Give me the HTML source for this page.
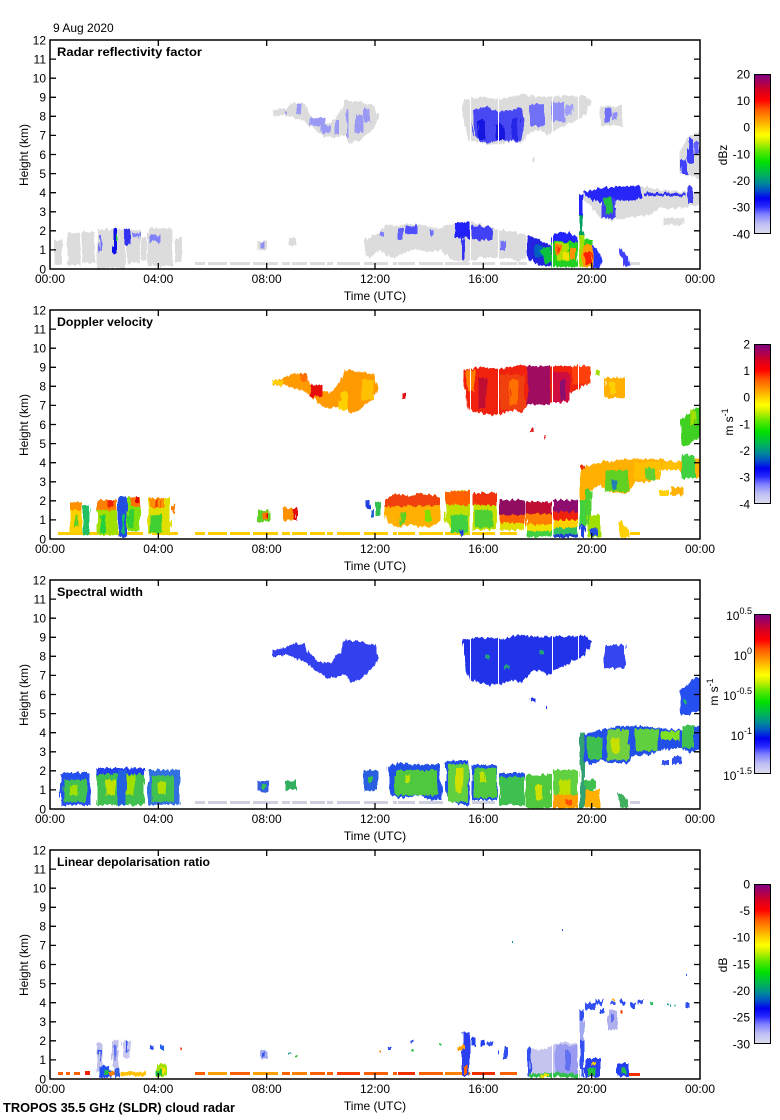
<!DOCTYPE html>
<html><head><meta charset="utf-8"><style>
html,body{margin:0;padding:0;background:#fff;}
svg{display:block;}
text{font-family:"Liberation Sans",Arial,sans-serif;fill:#000;font-size:12px;}
.b{font-weight:bold;}
</style></head><body>
<svg width="780" height="1120" viewBox="0 0 780 1120" xmlns="http://www.w3.org/2000/svg">
<defs>
<linearGradient id="cm" x1="0" y1="1" x2="0" y2="0">
<stop offset="0" stop-color="#dcdcee"/>
<stop offset="0.06" stop-color="#c0c0f4"/>
<stop offset="0.12" stop-color="#8080ff"/>
<stop offset="0.17" stop-color="#2828ff"/>
<stop offset="0.22" stop-color="#0000f0"/>
<stop offset="0.27" stop-color="#0050c8"/>
<stop offset="0.32" stop-color="#008c96"/>
<stop offset="0.38" stop-color="#00b850"/>
<stop offset="0.45" stop-color="#00e000"/>
<stop offset="0.52" stop-color="#60e800"/>
<stop offset="0.58" stop-color="#d0f000"/>
<stop offset="0.62" stop-color="#ffff00"/>
<stop offset="0.66" stop-color="#ffd800"/>
<stop offset="0.72" stop-color="#ff9800"/>
<stop offset="0.78" stop-color="#ff5800"/>
<stop offset="0.84" stop-color="#ff0000"/>
<stop offset="0.90" stop-color="#d80020"/>
<stop offset="0.96" stop-color="#a00060"/>
<stop offset="1" stop-color="#800080"/>
</linearGradient>
<filter id="rg" filterUnits="userSpaceOnUse" x="0" y="0" width="780" height="1120">
<feTurbulence type="fractalNoise" baseFrequency="0.35 0.06" numOctaves="2" seed="7" result="n"/>
<feDisplacementMap in="SourceGraphic" in2="n" scale="6" xChannelSelector="R" yChannelSelector="G"/>
</filter>
<clipPath id="c1"><rect x="50" y="40" width="650" height="229"/></clipPath>
<clipPath id="c2"><rect x="50" y="310" width="650" height="229"/></clipPath>
<clipPath id="c3"><rect x="50" y="580" width="650" height="229"/></clipPath>
<clipPath id="c4"><rect x="50" y="850" width="650" height="229"/></clipPath>
</defs>
<rect width="780" height="1120" fill="#fff"/>

<!-- ================= PANEL 1 DATA ================= -->
<g clip-path="url(#c1)">
<g fill="#dcdcdc">
<rect x="195" y="262" width="10" height="3"/><rect x="208" y="262" width="19" height="3"/><rect x="230" y="262" width="20" height="3"/><rect x="253" y="262" width="25" height="3"/><rect x="282" y="262" width="8" height="3"/><rect x="292" y="262" width="15" height="3"/><rect x="310" y="262" width="15" height="3"/><rect x="327" y="262" width="6" height="3"/><rect x="337" y="262" width="23" height="3"/><rect x="364" y="262" width="24" height="3"/><rect x="393" y="262" width="4" height="3"/><rect x="398" y="262" width="17" height="3"/><rect x="419" y="262" width="24" height="3"/><rect x="445" y="262" width="25" height="3"/><rect x="472" y="262" width="23" height="3"/><rect x="500" y="262" width="17" height="3"/><rect x="518" y="262" width="9" height="3"/><rect x="630" y="262" width="10" height="3"/>
</g>
<g filter="url(#rg)">
<g fill="#dcdcdc">
<rect x="55" y="240" width="7" height="25"/>
<rect x="67" y="233" width="13" height="32"/>
<rect x="82" y="232" width="13" height="31"/>
<rect x="97" y="229" width="28" height="39"/>
<rect x="127" y="230" width="13" height="33"/>
<rect x="141" y="238" width="6" height="22"/>
<rect x="148" y="228" width="24" height="38"/>
<rect x="175" y="238" width="7" height="24"/>
<rect x="258" y="241" width="10" height="9"/>
<rect x="289" y="238" width="7" height="8"/>
<polygon points="273,110 285,108 293,103 305,104 310,115 320,122 330,123 340,112 345,100 360,102 375,105 378,118 372,130 360,140 350,143 345,135 335,138 325,137 315,130 305,122 295,118 285,115 273,116"/>
<polygon points="463,100 480,97 500,99 520,95 540,97 560,96 585,96 592,102 585,115 570,123 560,128 548,135 540,130 530,132 522,143 515,140 500,144 490,145 480,143 470,140 465,125 463,110"/>
<rect x="600" y="106" width="22" height="20"/>
<rect x="531" y="158" width="3" height="4"/>
<polygon points="365,240 380,232 385,225 398,226 410,223 420,226 440,228 455,222 470,222 490,226 500,230 515,232 525,235 527,258 520,262 510,258 495,258 480,258 470,262 460,262 450,258 440,250 430,252 420,250 410,250 400,255 390,258 380,250 370,258 365,255"/>
<polygon points="583,192 600,188 640,186 660,190 700,192 700,205 680,208 660,208 650,215 630,217 615,220 600,218 590,205 583,200"/>
<polygon points="680,150 690,135 700,132 700,178 688,176 680,172"/>
<rect x="663" y="218" width="20" height="7"/>
</g>
<rect x="113" y="228" width="4" height="26" fill="#1010e8"/>
<rect x="116" y="234" width="2" height="6" fill="#20c040"/>
<rect x="124" y="229" width="6" height="16" fill="#3030f0"/>
<rect x="99" y="236" width="3" height="16" fill="#7070f8"/>
<rect x="150" y="235" width="10" height="7" fill="#8080f8"/>
<rect x="133" y="233" width="7" height="4" fill="#8080f8"/>
<rect x="260" y="242" width="5" height="6" fill="#9090f0"/>
<g fill="#9a9af4">
<rect x="296" y="104" width="6" height="10"/><rect x="310" y="118" width="15" height="8"/><rect x="322" y="125" width="8" height="8"/><rect x="335" y="120" width="4" height="14"/><rect x="346" y="110" width="3" height="28"/><rect x="355" y="115" width="8" height="18"/><rect x="364" y="108" width="6" height="14"/><rect x="284" y="110" width="4" height="3"/>
</g>
<polygon points="472,110 485,106 498,112 510,110 522,107 525,120 522,140 512,142 500,140 490,143 480,142 474,135" fill="#4a4af4"/>
<rect x="478" y="120" width="7" height="20" fill="#1515e0"/>
<rect x="496" y="124" width="8" height="16" fill="#1515e0"/>
<rect x="512" y="118" width="7" height="22" fill="#2525e8"/>
<rect x="530" y="104" width="14" height="22" fill="#7070f8"/>
<rect x="552" y="102" width="13" height="20" fill="#9090f8"/>
<rect x="566" y="105" width="6" height="10" fill="#a0a0f8"/>
<rect x="605" y="108" width="6" height="15" fill="#7070f8"/>
<rect x="612" y="112" width="5" height="8" fill="#9090f8"/>
<rect x="399" y="228" width="4" height="12" fill="#6060ff"/>
<rect x="405" y="226" width="12" height="8" fill="#5050ff"/>
<rect x="430" y="230" width="3" height="6" fill="#7070ff"/>
<rect x="380" y="232" width="3" height="5" fill="#8080ff"/>
<rect x="455" y="222" width="15" height="16" fill="#2020f8"/>
<rect x="462" y="236" width="3" height="24" fill="#3030f0"/>
<rect x="472" y="226" width="20" height="14" fill="#4040f4"/>
<rect x="500" y="240" width="5" height="10" fill="#7070f8"/>
<polygon points="527,235 535,238 545,243 552,246 552,266 540,266 530,260 527,250" fill="#2020e0"/>
<rect x="535" y="245" width="8" height="12" fill="#0060c0"/>
<polygon points="540,250 550,246 552,262 545,264" fill="#10c040"/>
<polygon points="552,236 560,232 570,233 578,238 578,267 552,267" fill="#20d020"/>
<polygon points="552,236 560,232 570,233 578,238 578,242 552,242" fill="#2020ff"/>
<rect x="556" y="243" width="12" height="18" fill="#b0e000"/>
<rect x="555" y="245" width="6" height="10" fill="#ff8000"/>
<rect x="557" y="248" width="3" height="5" fill="#ff3000"/>
<rect x="563" y="252" width="6" height="8" fill="#f0e000"/>
<rect x="570" y="248" width="6" height="12" fill="#ff9000"/>
<rect x="579" y="195" width="4" height="20" fill="#2020ff"/>
<rect x="579" y="215" width="4" height="20" fill="#00a060"/>
<rect x="579" y="235" width="4" height="32" fill="#a0e000"/>
<rect x="583" y="240" width="10" height="6" fill="#20d020"/>
<polygon points="583,245 592,245 594,255 592,267 583,267" fill="#ffa000"/>
<rect x="585" y="252" width="6" height="12" fill="#ff2000"/>
<polygon points="592,245 597,248 602,260 600,268 593,268" fill="#2030ff"/>
<polygon points="583,193 600,188 640,186 642,198 630,201 615,200 600,202 590,199" fill="#2525f8"/>
<rect x="602" y="198" width="14" height="20" fill="#4040f0"/>
<polygon points="604,198 612,196 613,212 606,215" fill="#20c040"/>
<rect x="645" y="193" width="40" height="3" fill="#3535f0"/>
<rect x="688" y="186" width="5" height="18" fill="#4040f0"/>
<rect x="681" y="160" width="6" height="14" fill="#4040ff"/>
<rect x="688" y="138" width="5" height="25" fill="#4040ff"/>
<rect x="694" y="142" width="6" height="12" fill="#6060ff"/>
<polygon points="618,248 622,250 628,258 630,266 624,266" fill="#4040ff"/>
</g>
<g fill="#fff"><rect x="470" y="40" width="1" height="229"/><rect x="498" y="40" width="1" height="229"/><rect x="552" y="40" width="1" height="229"/><rect x="578" y="40" width="1" height="229"/></g>
</g>

<!-- ================= PANEL 2 DATA ================= -->
<g clip-path="url(#c2)">
<g fill="#ffcc00">
<rect x="58" y="532" width="85" height="3"/><rect x="152" y="532" width="26" height="3"/>
<rect x="195" y="532" width="10" height="3"/><rect x="208" y="532" width="19" height="3"/><rect x="230" y="532" width="20" height="3"/><rect x="253" y="532" width="25" height="3"/><rect x="282" y="532" width="8" height="3"/><rect x="292" y="532" width="15" height="3"/><rect x="310" y="532" width="15" height="3"/><rect x="327" y="532" width="6" height="3"/><rect x="337" y="532" width="23" height="3"/><rect x="364" y="532" width="24" height="3"/><rect x="393" y="532" width="4" height="3"/><rect x="398" y="532" width="17" height="3"/><rect x="419" y="532" width="24" height="3"/><rect x="445" y="532" width="25" height="3"/><rect x="472" y="532" width="23" height="3"/><rect x="500" y="532" width="17" height="3"/><rect x="630" y="532" width="10" height="3"/>
</g>
<g filter="url(#rg)">
<rect x="70" y="502" width="12" height="31" fill="#ffd000"/>
<rect x="70" y="502" width="12" height="8" fill="#ff9000"/>
<rect x="74" y="515" width="4" height="12" fill="#60d020"/>
<rect x="83" y="505" width="7" height="30" fill="#20c060"/>
<rect x="97" y="500" width="20" height="35" fill="#a0e000"/>
<rect x="97" y="500" width="20" height="10" fill="#ff8000"/>
<rect x="108" y="500" width="4" height="6" fill="#f02000"/>
<rect x="100" y="515" width="6" height="18" fill="#20d040"/>
<rect x="118" y="497" width="9" height="40" fill="#2050e0"/>
<rect x="121" y="515" width="4" height="18" fill="#10c060"/>
<rect x="127" y="497" width="13" height="34" fill="#80e010"/>
<rect x="130" y="497" width="10" height="10" fill="#ff7000"/>
<rect x="135" y="497" width="4" height="6" fill="#e00000"/>
<rect x="128" y="510" width="6" height="18" fill="#30d030"/>
<rect x="148" y="498" width="22" height="36" fill="#e0e000"/>
<rect x="150" y="498" width="15" height="10" fill="#ff9000"/>
<rect x="155" y="500" width="4" height="8" fill="#f03000"/>
<rect x="150" y="515" width="12" height="18" fill="#40d030"/>
<rect x="172" y="505" width="4" height="8" fill="#ff8000"/>
<rect x="257" y="510" width="13" height="12" fill="#60d020"/>
<rect x="263" y="512" width="5" height="8" fill="#ff7000"/>
<rect x="266" y="514" width="2" height="5" fill="#e00000"/>
<rect x="283" y="508" width="14" height="12" fill="#ff9000"/>
<rect x="293" y="508" width="4" height="12" fill="#e01010"/>
<rect x="366" y="500" width="4" height="8" fill="#2040e0"/>
<rect x="371" y="510" width="3" height="8" fill="#2060d0"/>
<rect x="376" y="502" width="4" height="14" fill="#30c050"/>
<polygon points="273,380 285,378 293,373 305,374 310,385 320,392 330,393 340,382 345,370 360,372 375,375 378,388 372,400 360,410 350,413 345,405 335,408 325,407 315,400 305,392 295,388 285,385 273,386" fill="#ff9a00"/>
<rect x="310" y="385" width="12" height="12" fill="#e81010"/>
<rect x="300" y="374" width="8" height="8" fill="#ff7000"/>
<rect x="340" y="392" width="8" height="18" fill="#ffd000"/>
<rect x="362" y="380" width="12" height="20" fill="#ffc000"/>
<rect x="273" y="380" width="10" height="5" fill="#ffd000"/>
<rect x="402" y="393" width="3" height="6" fill="#e01010"/>
<polygon points="463,370 480,367 500,369 520,365 540,367 560,366 585,366 592,372 585,385 570,393 560,398 548,405 540,400 530,402 522,413 515,410 500,414 490,415 480,413 470,410 465,395 463,380" fill="#f02010"/>
<rect x="467" y="370" width="8" height="22" fill="#ff8000"/>
<rect x="478" y="378" width="8" height="30" fill="#c01030"/>
<rect x="500" y="375" width="25" height="35" fill="#f04010"/>
<rect x="510" y="380" width="8" height="25" fill="#ff7000"/>
<rect x="527" y="366" width="23" height="39" fill="#a01060"/>
<rect x="553" y="372" width="17" height="30" fill="#d01040"/>
<rect x="560" y="380" width="6" height="20" fill="#8a1070"/>
<rect x="572" y="366" width="18" height="18" fill="#ff4010"/>
<rect x="595" y="370" width="5" height="5" fill="#a0e000"/>
<rect x="605" y="378" width="20" height="20" fill="#ffb000"/>
<rect x="610" y="382" width="6" height="12" fill="#ffd000"/>
<rect x="530" y="428" width="4" height="4" fill="#e01010"/>
<rect x="544" y="435" width="2" height="3" fill="#e01010"/>
<polygon points="680,420 688,415 695,407 700,407 700,440 693,440 688,445 681,445" fill="#40d020"/>
<rect x="690" y="410" width="6" height="15" fill="#a0e000"/>
<polygon points="385,500 395,494 410,496 420,493 440,497 440,520 430,528 410,525 395,527 385,520" fill="#ffb000"/>
<polygon points="385,500 395,494 410,496 420,493 440,497 440,505 385,507" fill="#f04010"/>
<rect x="400" y="512" width="6" height="12" fill="#60d020"/>
<rect x="425" y="510" width="6" height="12" fill="#80e000"/>
<polygon points="445,496 455,491 465,490 470,493 470,535 460,535 450,528 445,520" fill="#c0e000"/>
<rect x="445" y="491" width="25" height="14" fill="#ff6000"/>
<rect x="450" y="515" width="18" height="18" fill="#40d040"/>
<rect x="460" y="530" width="4" height="6" fill="#2040e0"/>
<rect x="472" y="493" width="25" height="37" fill="#c8e000"/>
<rect x="472" y="493" width="25" height="12" fill="#f03010"/>
<rect x="475" y="510" width="18" height="18" fill="#50d030"/>
<rect x="499" y="500" width="26" height="15" fill="#901060"/>
<rect x="499" y="515" width="26" height="8" fill="#ff6000"/>
<rect x="499" y="523" width="26" height="7" fill="#e0e000"/>
<rect x="526" y="502" width="26" height="12" fill="#c01030"/>
<rect x="526" y="514" width="26" height="10" fill="#ff8000"/>
<rect x="526" y="524" width="26" height="7" fill="#f0e000"/>
<rect x="526" y="531" width="26" height="6" fill="#40d040"/>
<rect x="553" y="500" width="25" height="12" fill="#901070"/>
<rect x="553" y="512" width="25" height="8" fill="#f02010"/>
<rect x="553" y="520" width="25" height="8" fill="#ffd000"/>
<rect x="553" y="528" width="25" height="6" fill="#30c060"/>
<rect x="553" y="534" width="25" height="3" fill="#2040d0"/>
<rect x="580" y="465" width="5" height="5" fill="#f03000"/>
<rect x="580" y="470" width="5" height="30" fill="#ffb000"/>
<rect x="580" y="500" width="5" height="25" fill="#40d040"/>
<rect x="580" y="525" width="5" height="12" fill="#2040e0"/>
<polygon points="583,468 600,462 620,460 640,458 660,460 680,462 700,458 700,478 690,478 680,470 660,470 650,482 635,482 628,493 610,493 600,485 590,490 583,490" fill="#ffb000"/>
<rect x="605" y="470" width="23" height="22" fill="#60d020"/>
<rect x="612" y="480" width="5" height="10" fill="#2080b0"/>
<rect x="635" y="462" width="25" height="18" fill="#ffc000"/>
<rect x="645" y="468" width="10" height="12" fill="#60d030"/>
<rect x="682" y="455" width="13" height="23" fill="#40d040"/>
<rect x="662" y="462" width="18" height="8" fill="#ffc000"/>
<rect x="585" y="490" width="6" height="35" fill="#50d030"/>
<rect x="588" y="515" width="12" height="22" fill="#a0e000"/>
<rect x="590" y="528" width="8" height="8" fill="#2050e0"/>
<rect x="660" y="490" width="8" height="6" fill="#ffd000"/>
<rect x="670" y="487" width="13" height="8" fill="#ffb000"/>
<polygon points="618,522 622,522 628,530 630,537 620,537" fill="#ffd000"/>
</g>
<g fill="#fff"><rect x="470" y="310" width="1" height="229"/><rect x="498" y="310" width="1" height="229"/><rect x="552" y="310" width="1" height="229"/><rect x="578" y="310" width="1" height="229"/></g>
</g>

<!-- ================= PANEL 3 DATA ================= -->
<g clip-path="url(#c3)">
<g fill="#cfcfe0">
<rect x="195" y="801" width="10" height="3"/><rect x="208" y="801" width="19" height="3"/><rect x="230" y="801" width="20" height="3"/><rect x="253" y="801" width="25" height="3"/><rect x="282" y="801" width="8" height="3"/><rect x="292" y="801" width="15" height="3"/><rect x="310" y="801" width="15" height="3"/><rect x="327" y="801" width="6" height="3"/><rect x="337" y="801" width="23" height="3"/><rect x="364" y="801" width="24" height="3"/><rect x="393" y="801" width="4" height="3"/><rect x="398" y="801" width="17" height="3"/><rect x="419" y="801" width="24" height="3"/><rect x="472" y="801" width="23" height="3"/><rect x="500" y="801" width="17" height="3"/><rect x="630" y="801" width="10" height="3"/>
</g>
<g filter="url(#rg)">
<rect x="60" y="773" width="30" height="32" fill="#2850f0"/>
<rect x="64" y="780" width="22" height="22" fill="#40c050"/>
<rect x="70" y="785" width="8" height="10" fill="#a0e000"/>
<rect x="97" y="768" width="48" height="37" fill="#40c050"/>
<rect x="97" y="768" width="48" height="6" fill="#2040f0"/>
<rect x="105" y="780" width="10" height="15" fill="#c0e000"/>
<rect x="125" y="775" width="10" height="20" fill="#a0e000"/>
<rect x="118" y="770" width="8" height="35" fill="#2060e0"/>
<rect x="148" y="770" width="32" height="35" fill="#3070e0"/>
<rect x="152" y="776" width="22" height="26" fill="#40c050"/>
<rect x="158" y="782" width="8" height="12" fill="#b0e000"/>
<rect x="258" y="781" width="12" height="11" fill="#3060e0"/>
<rect x="262" y="784" width="4" height="5" fill="#30c050"/>
<rect x="285" y="781" width="11" height="9" fill="#30b060"/>
<polygon points="273,650 285,648 293,643 305,644 310,655 320,662 330,663 340,652 345,640 360,642 375,645 378,658 372,670 360,680 350,683 345,675 335,678 325,677 315,670 305,662 295,658 285,655 273,656" fill="#3040f0"/>
<polygon points="463,640 480,637 500,639 520,635 540,637 560,636 585,636 592,642 585,655 570,663 560,668 548,675 540,670 530,672 522,683 515,680 500,684 490,685 480,683 470,680 465,665 463,650" fill="#2030e8"/>
<rect x="485" y="655" width="4" height="4" fill="#20a080"/>
<rect x="505" y="665" width="4" height="4" fill="#20a080"/>
<rect x="540" y="650" width="4" height="4" fill="#20a080"/>
<rect x="605" y="645" width="20" height="23" fill="#3545f0"/>
<rect x="531" y="698" width="4" height="4" fill="#2030e8"/>
<rect x="545" y="706" width="2" height="3" fill="#2030e8"/>
<polygon points="680,690 688,685 695,677 700,677 700,712 693,712 688,715 681,715" fill="#2850f0"/>
<rect x="683" y="700" width="3" height="4" fill="#20c060"/>
<rect x="365" y="770" width="13" height="20" fill="#2a60e0"/>
<rect x="368" y="776" width="4" height="6" fill="#30c050"/>
<polygon points="388,766 400,763 420,765 440,764 442,800 430,800 420,795 400,798 390,795" fill="#2050e8"/>
<rect x="395" y="770" width="42" height="25" fill="#50c840"/>
<rect x="405" y="775" width="5" height="8" fill="#c0e000"/>
<polygon points="445,762 455,760 468,760 470,805 460,805 450,800 445,790" fill="#2050e8"/>
<rect x="448" y="764" width="20" height="38" fill="#60d040"/>
<rect x="455" y="768" width="8" height="25" fill="#d0e000"/>
<rect x="472" y="765" width="25" height="35" fill="#2050e8"/>
<rect x="474" y="768" width="22" height="30" fill="#50c840"/>
<rect x="480" y="772" width="6" height="10" fill="#c0e000"/>
<rect x="499" y="773" width="26" height="32" fill="#40c050"/>
<rect x="499" y="773" width="26" height="4" fill="#2050e8"/>
<rect x="526" y="775" width="26" height="33" fill="#50c840"/>
<rect x="535" y="785" width="8" height="15" fill="#d0e000"/>
<rect x="553" y="770" width="25" height="38" fill="#60d040"/>
<rect x="558" y="780" width="12" height="15" fill="#c0e000"/>
<rect x="553" y="795" width="25" height="13" fill="#ffa000"/>
<rect x="565" y="800" width="8" height="5" fill="#ff5000"/>
<rect x="580" y="733" width="5" height="75" fill="#30a070"/>
<rect x="585" y="780" width="10" height="10" fill="#40c050"/>
<rect x="585" y="790" width="15" height="18" fill="#ffb000"/>
<polygon points="583,735 600,730 620,727 640,726 660,728 680,730 700,725 700,750 690,752 680,748 660,750 650,755 635,755 628,763 610,763 600,760 590,765 583,760" fill="#2050e8"/>
<rect x="587" y="737" width="15" height="22" fill="#40c050"/>
<rect x="607" y="730" width="22" height="30" fill="#70d040"/>
<rect x="612" y="738" width="8" height="15" fill="#c8e000"/>
<rect x="635" y="729" width="23" height="22" fill="#60d040"/>
<rect x="662" y="731" width="18" height="9" fill="#80e020"/>
<rect x="682" y="725" width="12" height="23" fill="#40c050"/>
<rect x="662" y="760" width="8" height="5" fill="#3050f0"/>
<rect x="672" y="757" width="10" height="7" fill="#3050f0"/>
<polygon points="618,793 622,793 628,800 630,808 620,808" fill="#40b060"/>
</g>
<g fill="#fff"><rect x="470" y="580" width="1" height="229"/><rect x="498" y="580" width="1" height="229"/><rect x="552" y="580" width="1" height="229"/><rect x="578" y="580" width="1" height="229"/></g>
</g>

<!-- ================= PANEL 4 DATA ================= -->
<g clip-path="url(#c4)">
<g fill="#ff6000">
<rect x="58" y="1072" width="5" height="3"/><rect x="66" y="1072" width="4" height="3"/><rect x="74" y="1072" width="6" height="3"/><rect x="85" y="1071" width="5" height="4" fill="#f02000"/>
<rect x="195" y="1072" width="10" height="3"/><rect x="208" y="1072" width="19" height="3" fill="#ffa000"/><rect x="230" y="1072" width="20" height="3"/><rect x="253" y="1072" width="25" height="3" fill="#ffa000"/><rect x="282" y="1072" width="8" height="3"/><rect x="292" y="1072" width="15" height="3" fill="#ff8000"/><rect x="310" y="1072" width="15" height="3"/><rect x="327" y="1072" width="6" height="3"/><rect x="337" y="1072" width="23" height="3" fill="#ff4000"/><rect x="364" y="1072" width="24" height="3"/><rect x="393" y="1072" width="4" height="3"/><rect x="398" y="1072" width="17" height="3" fill="#f03000"/><rect x="419" y="1072" width="24" height="3"/><rect x="445" y="1072" width="25" height="3" fill="#ff8000"/><rect x="472" y="1072" width="23" height="3" fill="#f03000"/><rect x="500" y="1072" width="17" height="3"/><rect x="625" y="1073" width="15" height="3" fill="#f03000"/>
</g>
<g filter="url(#rg)">
<rect x="97" y="1043" width="6" height="28" fill="#c0c0ea"/>
<rect x="99" y="1050" width="2" height="10" fill="#3050f0"/>
<rect x="112" y="1040" width="6" height="28" fill="#c0c0ea"/>
<rect x="114" y="1045" width="2" height="15" fill="#6070f0"/>
<rect x="123" y="1040" width="7" height="18" fill="#c8c8f0"/>
<rect x="126" y="1040" width="2" height="12" fill="#3050f0"/>
<rect x="100" y="1066" width="10" height="12" fill="#2050f0"/>
<rect x="103" y="1070" width="4" height="5" fill="#20c040"/>
<rect x="108" y="1072" width="8" height="4" fill="#ff8000"/>
<rect x="115" y="1068" width="4" height="10" fill="#3060e0"/>
<rect x="120" y="1072" width="25" height="4" fill="#ffc000"/>
<rect x="150" y="1045" width="4" height="4" fill="#3050f0"/>
<rect x="160" y="1046" width="4" height="4" fill="#2060f0"/>
<rect x="157" y="1064" width="10" height="12" fill="#a0e000"/>
<rect x="160" y="1068" width="5" height="5" fill="#ffe000"/>
<rect x="157" y="1070" width="4" height="5" fill="#20c040"/>
<rect x="180" y="1048" width="2" height="3" fill="#f02000"/>
<rect x="261" y="1050" width="7" height="8" fill="#a0a8f0"/>
<rect x="263" y="1052" width="2" height="4" fill="#3050f0"/>
<rect x="288" y="1052" width="2" height="2" fill="#009090"/>
<rect x="295" y="1055" width="2" height="2" fill="#20c040"/>
<rect x="388" y="1047" width="3" height="3" fill="#3050f0"/>
<rect x="380" y="1050" width="2" height="2" fill="#ff8000"/>
<rect x="410" y="1040" width="3" height="3" fill="#3050f0"/>
<rect x="412" y="1050" width="2" height="2" fill="#20c040"/>
<rect x="440" y="1043" width="2" height="2" fill="#20c040"/>
<rect x="462" y="1032" width="8" height="44" fill="#2a40f0"/>
<rect x="457" y="1046" width="8" height="4" fill="#ffa000"/>
<rect x="464" y="1066" width="3" height="8" fill="#ff6000"/>
<rect x="472" y="1038" width="4" height="8" fill="#2040f0"/>
<rect x="480" y="1040" width="5" height="6" fill="#2040f0"/>
<rect x="488" y="1042" width="5" height="4" fill="#3050f0"/>
<rect x="497" y="1050" width="2" height="4" fill="#3050f0"/>
<rect x="503" y="1047" width="5" height="12" fill="#3050f0"/>
<polygon points="527,1048 540,1050 552,1046 560,1043 570,1042 578,1044 578,1077 527,1077" fill="#c4c4ee"/>
<rect x="555" y="1045" width="23" height="32" fill="#9a9cf2"/>
<rect x="565" y="1050" width="5" height="20" fill="#6070f0"/>
<rect x="527" y="1048" width="4" height="28" fill="#3050f0"/>
<rect x="530" y="1073" width="48" height="4" fill="#30c050"/>
<rect x="540" y="1074" width="8" height="3" fill="#f0e000"/>
<rect x="580" y="1010" width="4" height="67" fill="#3050f0"/>
<rect x="580" y="1020" width="4" height="20" fill="#a0a8f0"/>
<rect x="585" y="1058" width="15" height="19" fill="#2a40f0"/>
<rect x="588" y="1068" width="8" height="8" fill="#20c040"/>
<rect x="592" y="1062" width="3" height="3" fill="#ffd000"/>
<g fill="#3050f0">
<rect x="585" y="1003" width="10" height="6"/><rect x="595" y="1000" width="8" height="4"/><rect x="600" y="1008" width="5" height="5"/><rect x="610" y="1002" width="6" height="3"/><rect x="620" y="1000" width="5" height="4"/><rect x="630" y="1003" width="6" height="5"/><rect x="638" y="1000" width="5" height="4"/><rect x="686" y="1002" width="2" height="6"/>
</g>
<rect x="650" y="1002" width="3" height="3" fill="#20c060"/>
<rect x="612" y="999" width="3" height="2" fill="#ffa000"/>
<rect x="620" y="1010" width="3" height="3" fill="#f03000"/>
<rect x="608" y="1010" width="10" height="20" fill="#b0b0ee"/>
<rect x="611" y="1014" width="3" height="8" fill="#6070f0"/>
<rect x="617" y="1063" width="12" height="14" fill="#2040f0"/>
<rect x="620" y="1068" width="6" height="6" fill="#20c040"/>
<rect x="668" y="1004" width="2" height="2" fill="#009090"/>
<rect x="675" y="1005" width="2" height="2" fill="#009090"/>
</g>
<rect x="512" y="941" width="1" height="2" fill="#009090"/>
<rect x="562" y="929" width="1" height="2" fill="#3050f0"/>
<rect x="686" y="974" width="1" height="2" fill="#3050f0"/>
<g fill="#fff"><rect x="552" y="850" width="1" height="229"/><rect x="578" y="850" width="1" height="229"/></g>
</g>

<!-- ================= AXES ================= -->
<g fill="none" stroke="#000" stroke-width="1.5">
<rect x="50" y="40" width="650" height="229"/>
<rect x="50" y="310" width="650" height="229"/>
<rect x="50" y="580" width="650" height="229"/>
<rect x="50" y="850" width="650" height="229"/>
</g>
<g stroke="#000" stroke-width="1.3" fill="none">
<path d="M50 249.9h6M50 230.8h6M50 211.8h6M50 192.7h6M50 173.6h6M50 154.5h6M50 135.4h6M50 116.3h6M50 97.3h6M50 78.2h6M50 59.1h6M694 249.9h6M694 230.8h6M694 211.8h6M694 192.7h6M694 173.6h6M694 154.5h6M694 135.4h6M694 116.3h6M694 97.3h6M694 78.2h6M694 59.1h6M158.3 269v-6M266.7 269v-6M375 269v-6M483.3 269v-6M591.7 269v-6M158.3 40v6M266.7 40v6M375 40v6M483.3 40v6M591.7 40v6"/>
<path d="M50 519.9h6M50 500.8h6M50 481.8h6M50 462.7h6M50 443.6h6M50 424.5h6M50 405.4h6M50 386.3h6M50 367.3h6M50 348.2h6M50 329.1h6M694 519.9h6M694 500.8h6M694 481.8h6M694 462.7h6M694 443.6h6M694 424.5h6M694 405.4h6M694 386.3h6M694 367.3h6M694 348.2h6M694 329.1h6M158.3 539v-6M266.7 539v-6M375 539v-6M483.3 539v-6M591.7 539v-6M158.3 310v6M266.7 310v6M375 310v6M483.3 310v6M591.7 310v6"/>
<path d="M50 789.9h6M50 770.8h6M50 751.8h6M50 732.7h6M50 713.6h6M50 694.5h6M50 675.4h6M50 656.3h6M50 637.3h6M50 618.2h6M50 599.1h6M694 789.9h6M694 770.8h6M694 751.8h6M694 732.7h6M694 713.6h6M694 694.5h6M694 675.4h6M694 656.3h6M694 637.3h6M694 618.2h6M694 599.1h6M158.3 809v-6M266.7 809v-6M375 809v-6M483.3 809v-6M591.7 809v-6M158.3 580v6M266.7 580v6M375 580v6M483.3 580v6M591.7 580v6"/>
<path d="M50 1059.9h6M50 1040.8h6M50 1021.8h6M50 1002.7h6M50 983.6h6M50 964.5h6M50 945.4h6M50 926.3h6M50 907.3h6M50 888.2h6M50 869.1h6M694 1059.9h6M694 1040.8h6M694 1021.8h6M694 1002.7h6M694 983.6h6M694 964.5h6M694 945.4h6M694 926.3h6M694 907.3h6M694 888.2h6M694 869.1h6M158.3 1079v-6M266.7 1079v-6M375 1079v-6M483.3 1079v-6M591.7 1079v-6M158.3 850v6M266.7 850v6M375 850v6M483.3 850v6M591.7 850v6"/>
</g>

<!-- y tick labels -->
<g text-anchor="end">
<text x="46" y="273.3">0</text><text x="46" y="254.2">1</text><text x="46" y="235.1">2</text><text x="46" y="216.1">3</text><text x="46" y="197">4</text><text x="46" y="177.9">5</text><text x="46" y="158.8">6</text><text x="46" y="139.7">7</text><text x="46" y="120.6">8</text><text x="46" y="101.6">9</text><text x="46" y="82.5">10</text><text x="46" y="63.4">11</text><text x="46" y="44.3">12</text>
<text x="46" y="543.3">0</text><text x="46" y="524.2">1</text><text x="46" y="505.1">2</text><text x="46" y="486.1">3</text><text x="46" y="467">4</text><text x="46" y="447.9">5</text><text x="46" y="428.8">6</text><text x="46" y="409.7">7</text><text x="46" y="390.6">8</text><text x="46" y="371.6">9</text><text x="46" y="352.5">10</text><text x="46" y="333.4">11</text><text x="46" y="314.3">12</text>
<text x="46" y="813.3">0</text><text x="46" y="794.2">1</text><text x="46" y="775.1">2</text><text x="46" y="756.1">3</text><text x="46" y="737">4</text><text x="46" y="717.9">5</text><text x="46" y="698.8">6</text><text x="46" y="679.7">7</text><text x="46" y="660.6">8</text><text x="46" y="641.6">9</text><text x="46" y="622.5">10</text><text x="46" y="603.4">11</text><text x="46" y="584.3">12</text>
<text x="46" y="1083.3">0</text><text x="46" y="1064.2">1</text><text x="46" y="1045.1">2</text><text x="46" y="1026.1">3</text><text x="46" y="1007">4</text><text x="46" y="987.9">5</text><text x="46" y="968.8">6</text><text x="46" y="949.7">7</text><text x="46" y="930.6">8</text><text x="46" y="911.6">9</text><text x="46" y="892.5">10</text><text x="46" y="873.4">11</text><text x="46" y="854.3">12</text>
</g>

<!-- x tick labels -->
<g text-anchor="middle">
<text x="50" y="283">00:00</text><text x="158.3" y="283">04:00</text><text x="266.7" y="283">08:00</text><text x="375" y="283">12:00</text><text x="483.3" y="283">16:00</text><text x="591.7" y="283">20:00</text><text x="700" y="283">00:00</text>
<text x="50" y="553">00:00</text><text x="158.3" y="553">04:00</text><text x="266.7" y="553">08:00</text><text x="375" y="553">12:00</text><text x="483.3" y="553">16:00</text><text x="591.7" y="553">20:00</text><text x="700" y="553">00:00</text>
<text x="50" y="823">00:00</text><text x="158.3" y="823">04:00</text><text x="266.7" y="823">08:00</text><text x="375" y="823">12:00</text><text x="483.3" y="823">16:00</text><text x="591.7" y="823">20:00</text><text x="700" y="823">00:00</text>
<text x="50" y="1093">00:00</text><text x="158.3" y="1093">04:00</text><text x="266.7" y="1093">08:00</text><text x="375" y="1093">12:00</text><text x="483.3" y="1093">16:00</text><text x="591.7" y="1093">20:00</text><text x="700" y="1093">00:00</text>
<text x="375" y="300">Time (UTC)</text>
<text x="375" y="570">Time (UTC)</text>
<text x="375" y="840">Time (UTC)</text>
<text x="375" y="1110">Time (UTC)</text>
<text transform="translate(28,155) rotate(-90)">Height (km)</text>
<text transform="translate(28,425) rotate(-90)">Height (km)</text>
<text transform="translate(28,695) rotate(-90)">Height (km)</text>
<text transform="translate(28,965) rotate(-90)">Height (km)</text>
</g>

<!-- titles -->
<text x="53" y="32">9 Aug 2020</text>
<text class="b" x="57" y="56" textLength="145" lengthAdjust="spacingAndGlyphs">Radar reflectivity factor</text>
<text class="b" x="57" y="326" textLength="96" lengthAdjust="spacingAndGlyphs">Doppler velocity</text>
<text class="b" x="57" y="596" textLength="86" lengthAdjust="spacingAndGlyphs">Spectral width</text>
<text class="b" x="57" y="866" textLength="153" lengthAdjust="spacingAndGlyphs">Linear depolarisation ratio</text>
<text class="b" x="3" y="1112" style="font-size:13px" textLength="232" lengthAdjust="spacingAndGlyphs">TROPOS 35.5 GHz (SLDR) cloud radar</text>

<!-- colorbars -->
<g stroke="#000" stroke-width="1" fill="url(#cm)">
<rect x="754.5" y="74.5" width="16" height="159"/>
<rect x="754.5" y="344.5" width="16" height="159"/>
<rect x="754.5" y="614.5" width="16" height="159"/>
<rect x="754.5" y="884.5" width="16" height="159"/>
</g>
<g text-anchor="end">
<text x="750" y="78.3">20</text><text x="750" y="105">10</text><text x="750" y="131.6">0</text><text x="750" y="158.3">-10</text><text x="750" y="185">-20</text><text x="750" y="211.6">-30</text><text x="750" y="238.3">-40</text>
<text x="750" y="348.3">2</text><text x="750" y="375">1</text><text x="750" y="401.6">0</text><text x="750" y="428.3">-1</text><text x="750" y="455">-2</text><text x="750" y="481.6">-3</text><text x="750" y="508.3">-4</text>
<text x="752" y="620">10<tspan dy="-6" font-size="9">0.5</tspan></text>
<text x="752" y="660">10<tspan dy="-6" font-size="9">0</tspan></text>
<text x="752" y="700">10<tspan dy="-6" font-size="9">-0.5</tspan></text>
<text x="752" y="740">10<tspan dy="-6" font-size="9">-1</tspan></text>
<text x="752" y="780">10<tspan dy="-6" font-size="9">-1.5</tspan></text>
<text x="750" y="888.3">0</text><text x="750" y="915">-5</text><text x="750" y="941.6">-10</text><text x="750" y="968.3">-15</text><text x="750" y="995">-20</text><text x="750" y="1021.6">-25</text><text x="750" y="1048.3">-30</text>
</g>
<g text-anchor="middle">
<text transform="translate(727,155) rotate(-90)">dBz</text>
<text transform="translate(733,422) rotate(-90)">m s<tspan dy="-5" font-size="9">-1</tspan></text>
<text transform="translate(718,692) rotate(-90)">m s<tspan dy="-5" font-size="9">-1</tspan></text>
<text transform="translate(727,965) rotate(-90)">dB</text>
</g>
</svg>
</body></html>
